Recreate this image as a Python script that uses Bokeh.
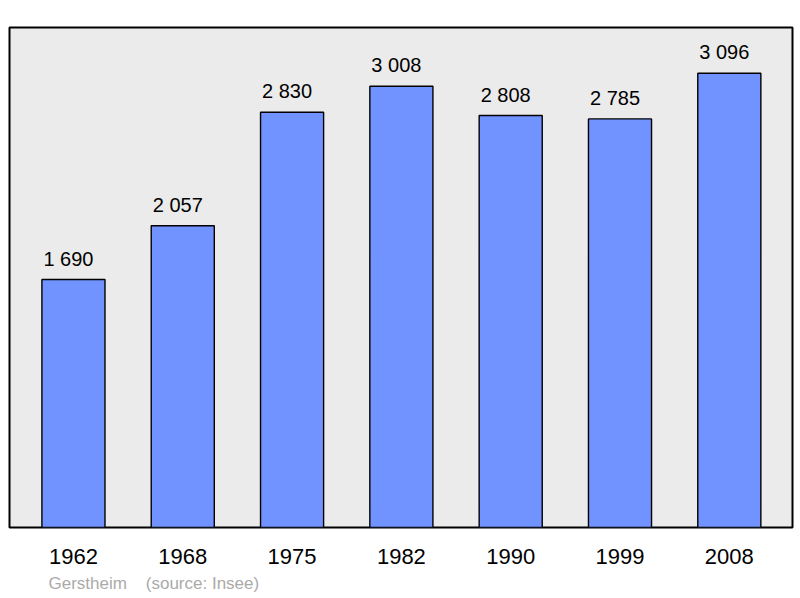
from bokeh.plotting import figure
from bokeh.models import ColumnDataSource, Range1d, FixedTicker, Title
from bokeh.core.properties import value
from bokeh.embed import file_html
from bokeh.resources import INLINE

years = ["1962", "1968", "1975", "1982", "1990", "1999", "2008"]
population = [1690, 2057, 2830, 3008, 2808, 2785, 3096]

idx = list(range(len(years)))
labels = ["{:,}".format(v).replace(",", " ") for v in population]
src = ColumnDataSource(dict(x=idx, top=population, label=labels))

p = figure(width=800, height=598, output_backend="svg", toolbar_location=None,
           x_range=Range1d(-0.585, 6.578), y_range=Range1d(0, 3408),
           min_border_left=9, min_border_right=8, min_border_top=27, min_border_bottom=0)
p.background_fill_color = "#ebebeb"
p.border_fill_color = "white"
p.outline_line_color = "black"
p.outline_line_width = 2
p.grid.visible = False
p.yaxis.visible = False

p.vbar(x="x", top="top", bottom=0, width=0.577, source=src,
       fill_color="#7093ff", line_color="black", line_width=1.4)
p.text(x="x", y="top", text="label", source=src, text_align="center",
       text_baseline="bottom", x_offset=-5, y_offset=-10, text_font=value("Liberation Sans"),
       text_font_size="20px", text_color="black")

ax = p.xaxis[0]
ax.ticker = FixedTicker(ticks=idx)
ax.major_label_overrides = {i: y for i, y in zip(idx, years)}
ax.axis_line_color = None
ax.major_tick_line_color = None
ax.minor_tick_line_color = None
ax.major_label_text_font = "Liberation Sans"
ax.major_label_text_font_size = "22px"
ax.major_label_text_color = "black"
ax.major_label_standoff = 15

p.add_layout(Title(text="Gerstheim\u00a0\u00a0\u00a0\u00a0(source: Insee)", align="left", offset=39,
                   standoff=11, text_color="#aaaaaa", text_font_size="17px", text_font_style="normal",
                   text_font="Liberation Sans"), "below")

open("out.html", "w").write(file_html(p, INLINE))
